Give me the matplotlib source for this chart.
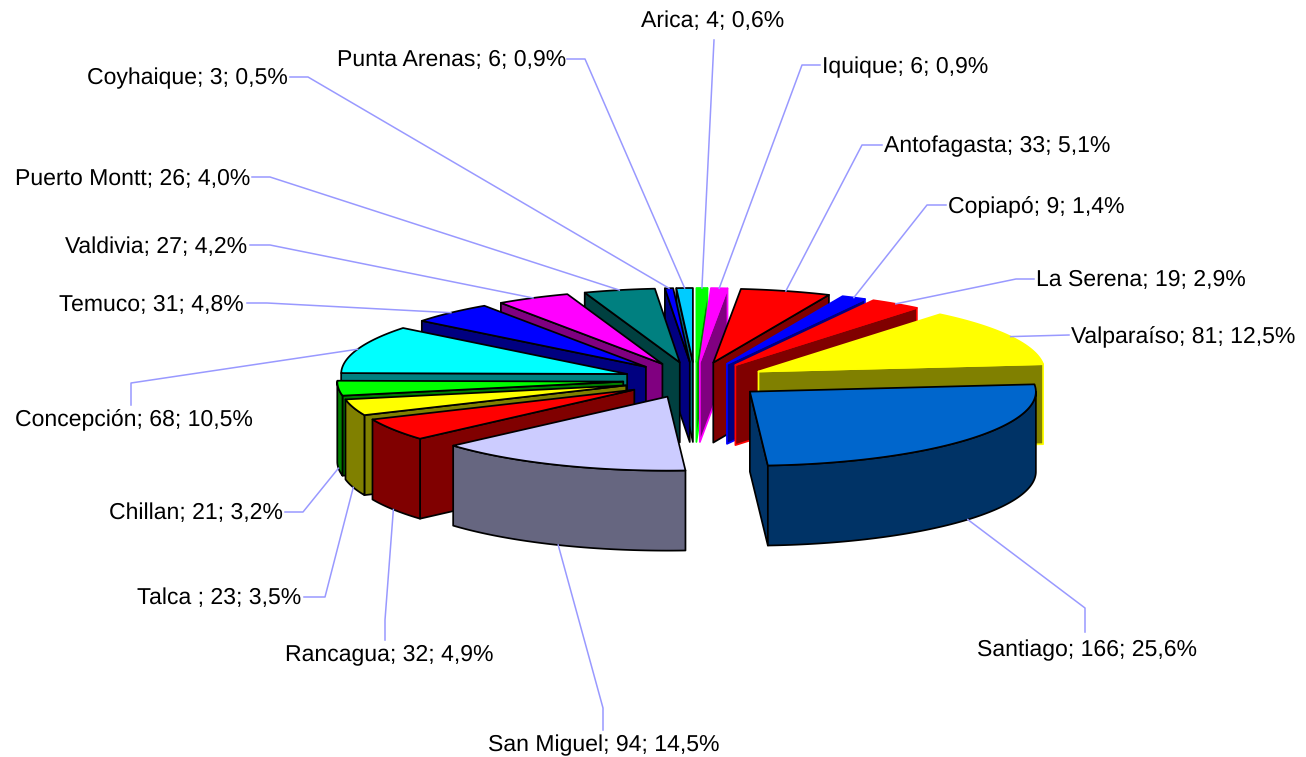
import numpy as np
import matplotlib
matplotlib.use("Agg")
import matplotlib.pyplot as plt
from matplotlib.patches import Polygon

plt.rcParams["font.family"] = ["Liberation Sans", "DejaVu Sans"]
plt.rcParams["text.hinting"] = "no_hinting"
plt.rcParams["text.hinting_factor"] = 1

cities = ["Arica", "Iquique", "Antofagasta", "Copiapó", "La Serena", "Valparaíso",
          "Santiago", "San Miguel", "Rancagua", "Talca ", "Chillan", "Concepción",
          "Temuco", "Valdivia", "Puerto Montt", "Coyhaique", "Punta Arenas"]
values = [4, 6, 33, 9, 19, 81, 166, 94, 32, 23, 21, 68, 31, 27, 26, 3, 6]
percents = ["0,6%", "0,9%", "5,1%", "1,4%", "2,9%", "12,5%", "25,6%", "14,5%", "4,9%",
            "3,5%", "3,2%", "10,5%", "4,8%", "4,2%", "4,0%", "0,5%", "0,9%"]
colors = ["#00FF00", "#FF00FF", "#FF0000", "#0000FF", "#FF0000", "#FFFF00", "#0066CC",
          "#CCCCFF", "#FF0000", "#FFFF00", "#00FF00", "#00FFFF", "#0000FF", "#FF00FF",
          "#008080", "#0000FF", "#00CCFF"]
edges = ["#00FF00", "#FF00FF", "black", "#0000FF", "#FF0000", "#FFFF00", "black",
         "black", "black", "black", "black", "black", "black", "black",
         "black", "black", "black"]

# label layout in pixels: text x, text y, ha, then the two leader points next to the label
labels = [
    (713, 21, "center", (714, 40), (714, 40)),
    (822, 67, "left", (820, 65), (802, 65)),
    (884, 146, "left", (882, 145), (862, 145)),
    (948, 207, "left", (946, 205), (927, 205)),
    (1036, 280, "left", (1034, 279), (1016, 279)),
    (1071, 337, "left", (1069, 335), (1069, 335)),
    (977, 650, "left", (1085, 632), (1085, 608)),
    (604, 745, "center", (603, 730), (603, 708)),
    (285, 654, "left", (385, 640), (385, 620)),
    (301, 598, "right", (304, 597), (325, 597)),
    (283, 513, "right", (285, 512), (303, 512)),
    (15, 420, "left", (131, 405), (131, 383)),
    (244, 305, "right", (247, 303), (267, 303)),
    (247, 247, "right", (250, 245), (270, 245)),
    (250, 179, "right", (252, 177), (270, 177)),
    (288, 78, "right", (290, 77), (308, 77)),
    (566, 60, "right", (567, 59), (585, 59)),
]

# pie geometry in pixels
cx, cy = 695, 380
rx, ry = 286, 74
explode = 72
height = 80


def darker(color):
    r, g, b = matplotlib.colors.to_rgb(color)
    return (r / 2, g / 2, b / 2)


def rim(ax0, ay0, a, b):
    t = np.radians(np.linspace(a, b, max(int(b - a) * 2, 2)))
    return np.column_stack((ax0 + rx * np.sin(t), ay0 - ry * np.cos(t)))


fig = plt.figure(figsize=(13.06, 7.57), dpi=100)
ax = fig.add_axes([0, 0, 1, 1])
ax.set_xlim(0, 1306)
ax.set_ylim(757, 0)
ax.axis("off")

fracs = np.array(values) / sum(values) * 360
ends = np.cumsum(fracs)
starts = ends - fracs
mids = (starts + ends) / 2

# paint from the back of the pie to the front
order = np.argsort(-np.cos(np.radians(mids)))
z = 2
for i in order:
    s, e, m = starts[i], ends[i], np.radians(mids[i])
    ax0 = cx + explode * np.sin(m)
    ay0 = cy - explode * 0.25 * np.cos(m)
    dark = darker(colors[i])
    style = dict(edgecolor=edges[i], linewidth=1.25, joinstyle="round")
    top = rim(ax0, ay0, s, e)
    apex = np.array([[ax0, ay0]])
    down = np.array([0, height])

    if np.sin(np.radians(s)) < 0:
        quad = np.vstack((apex, top[:1], top[:1] + down, apex + down))
        ax.add_patch(Polygon(quad, facecolor=dark, zorder=z, **style))
    if np.sin(np.radians(e)) > 0:
        quad = np.vstack((apex, top[-1:], top[-1:] + down, apex + down))
        ax.add_patch(Polygon(quad, facecolor=dark, zorder=z, **style))
    a, b = max(s, 90), min(e, 270)
    if b > a:
        r = rim(ax0, ay0, a, b)
        ax.add_patch(Polygon(np.vstack((r, r[::-1] + down)), facecolor=dark, zorder=z + 1, **style))
    ax.add_patch(Polygon(np.vstack((apex, top)), facecolor=colors[i], zorder=z + 2, **style))
    z += 3

for i, name in enumerate(cities):
    m = np.radians(mids[i])
    ax0 = cx + explode * np.sin(m)
    ay0 = cy - explode * 0.25 * np.cos(m)
    px = ax0 + rx * np.sin(m)
    py = ay0 - ry * np.cos(m)
    if np.cos(m) < 0:
        py += height
    tx, ty, ha, p1, p2 = labels[i]
    ax.plot([p1[0], p2[0], px], [p1[1], p2[1], py], color="#9999FF", lw=1.1, zorder=200)
    ax.text(tx, ty + 6, f"{name}; {values[i]}; {percents[i]}", ha=ha, va="baseline",
            fontsize=16.3, color="black", zorder=201)

fig.savefig("out.png", dpi=100)
